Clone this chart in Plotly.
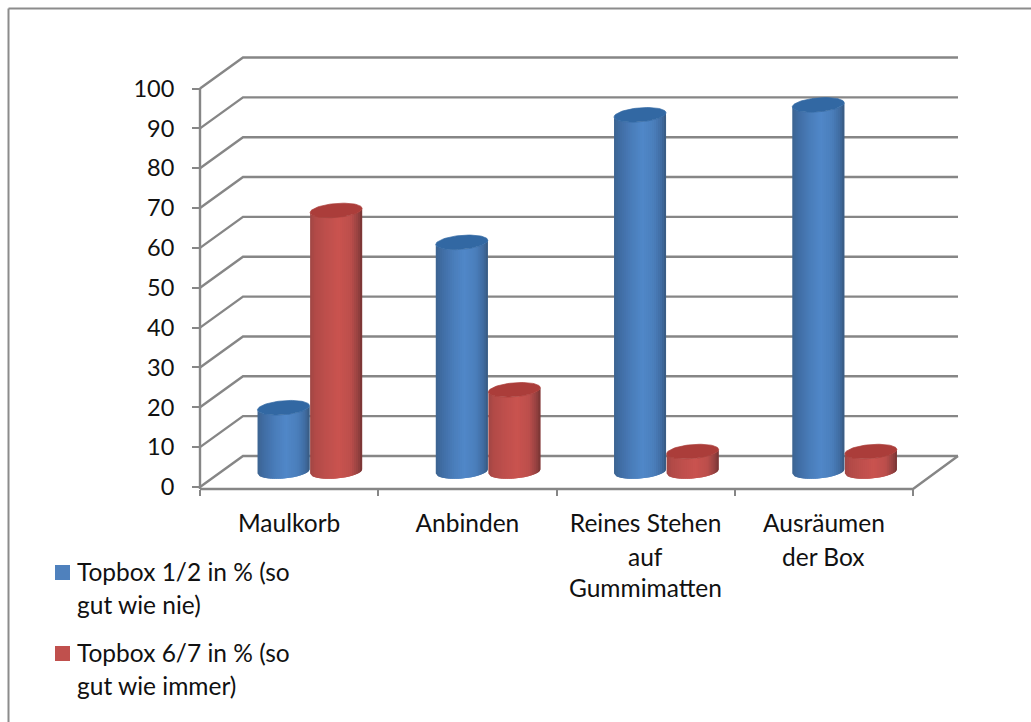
import numpy as np
import plotly.graph_objects as go

# Chart data
categories = ["Maulkorb", "Anbinden", "Reines Stehen", "Ausräumen"]
extra_label_lines = [[], [], ["auf", "Gummimatten"], ["der Box"]]
series_names = ["Topbox 1/2 in % (so gut wie nie)", "Topbox 6/7 in % (so gut wie immer)"]
topbox_12 = [16, 57.5, 89.5, 92]
topbox_67 = [65.5, 20.5, 5, 5]
value_ticks = list(range(0, 101, 10))

W, H = 1031, 722
FONT = "Lato"
FONT_SIZE = 24.5
GRID = "#868686"

# Axis scale: pixels per category and per value unit
PX_CAT = 178.25
PX_VAL = 3.985
ORIGIN_X, ORIGIN_Y = 200.0, 487.0

def paper_x(px):
    return px / W

def paper_y(py):
    return 1 - py / H

# Plot area and the matching axis ranges
LEFT, RIGHT, TOP, BOTTOM = 190.0, 962.0, 50.0, 494.0
x_range = [(LEFT - ORIGIN_X) / PX_CAT, (RIGHT - ORIGIN_X) / PX_CAT]
y_range = [(ORIGIN_Y - BOTTOM) / PX_VAL, (ORIGIN_Y - TOP) / PX_VAL]

# Oblique projection: shift of the back wall and of the cylinder axis
WALL_DX = 43 / PX_CAT
WALL_DV = 31 / PX_VAL
MID_DX = 21.5 / PX_CAT
MID_DV = 15.5 / PX_VAL
FLOOR_V = -2 / PX_VAL
WALL_END = (958 - ORIGIN_X) / PX_CAT

# Cylinder proportions
HALF_W = 26 / PX_CAT
HALF_H = 7 / PX_VAL
TILT = 0.08 * HALF_W * PX_CAT / PX_VAL
SERIES_OFFSET = [-0.152, 0.143]

BLUE_STOPS = [(-1, "#3d6390"), (-0.8, "#3f6ba1"), (-0.3, "#4a7ebb"), (0.1, "#5087c8"),
              (0.55, "#4a7ebb"), (0.85, "#3f6a9f"), (1, "#38587e")]
RED_STOPS = [(-1, "#a04644"), (-0.8, "#b24a47"), (-0.3, "#c0504d"), (0.1, "#c9534f"),
             (0.55, "#bd4f4c"), (0.85, "#964140"), (1, "#753433")]
CAP_COLORS = ["#3268a3", "#ab3d3a"]
SWATCHES = ["#4f81bd", "#c0504d"]


def hex_rgb(c):
    return np.array([int(c[i:i + 2], 16) for i in (1, 3, 5)], dtype=float)


def shade(stops, u):
    pos = [s[0] for s in stops]
    rgb = np.array([hex_rgb(s[1]) for s in stops])
    vals = [np.interp(u, pos, rgb[:, k]) for k in range(3)]
    return "rgb(%d,%d,%d)" % tuple(round(v) for v in vals)


def front_edge(u, level):
    return level + MID_DV + TILT * u - HALF_H * np.sqrt(np.clip(1 - u * u, 0, 1))


fig = go.Figure()


def add_line(xs, ys):
    fig.add_trace(go.Scatter(x=xs, y=ys, mode="lines", showlegend=False, hoverinfo="skip",
                             line=dict(color=GRID, width=2.4)))


# Back wall and side wall gridlines
for v in value_ticks:
    add_line([0, WALL_DX, WALL_END], [v, v + WALL_DV, v + WALL_DV])
# Floor edges and the value axis
add_line([0, 4, WALL_END], [FLOOR_V, FLOOR_V, WALL_DV])
add_line([0, 0], [FLOOR_V, 100])


def add_cylinder(center, value, stops, cap, name):
    cx = center + MID_DX
    edges = np.linspace(-1, 1, 27)
    step = edges[1] - edges[0]
    # Each strip runs under its right neighbour so no seams show between them
    for u0 in edges[:-1]:
        us = np.linspace(u0, min(u0 + 2 * step, 1), 5)
        px = cx + HALF_W * us
        xs = np.concatenate([px, px[::-1]])
        ys = np.concatenate([front_edge(us, 0), front_edge(us[::-1], value)])
        color = shade(stops, u0 + step / 2)
        fig.add_trace(go.Scatter(x=xs, y=ys, mode="lines", fill="toself", fillcolor=color,
                                 line=dict(width=0), name=name,
                                 showlegend=False, hoverinfo="skip"))
    t = np.linspace(0, 2 * np.pi, 73)
    fig.add_trace(go.Scatter(x=cx + HALF_W * np.cos(t),
                             y=value + MID_DV + TILT * np.cos(t) + HALF_H * np.sin(t),
                             mode="lines", fill="toself", fillcolor=cap,
                             line=dict(color=cap, width=0.7), name=name,
                             showlegend=False, hoverinfo="skip"))


for i in range(len(categories)):
    center = i + 0.5
    add_cylinder(center + SERIES_OFFSET[0], topbox_12[i], BLUE_STOPS, CAP_COLORS[0], series_names[0])
    add_cylinder(center + SERIES_OFFSET[1], topbox_67[i], RED_STOPS, CAP_COLORS[1], series_names[1])

annotations = []


def add_text(text, x, y, xref, anchor):
    annotations.append(dict(text=text, x=x, y=y, xref=xref, yref="paper", xanchor=anchor,
                            yanchor="middle", showarrow=False,
                            font=dict(family=FONT, size=FONT_SIZE, color="#111111")))


# Continuation lines of the category labels
for i, lines in enumerate(extra_label_lines):
    for k, line in enumerate(lines):
        add_text(line, i + 0.5, paper_y(556 + 31 * k), "x", "center")

# Legend entries
legend_rows = [("Topbox 1/2 in % (so", "gut wie nie)", 571, SWATCHES[0]),
               ("Topbox 6/7 in % (so", "gut wie immer)", 652, SWATCHES[1])]
shapes = []
for first, second, y, col in legend_rows:
    add_text(first, paper_x(75), paper_y(y), "paper", "left")
    add_text(second, paper_x(75), paper_y(y + 33), "paper", "left")
    shapes.append(dict(type="rect", xref="paper", yref="paper", x0=paper_x(55), x1=paper_x(70),
                       y0=paper_y(y - 6), y1=paper_y(y + 9), fillcolor=col, line=dict(width=0)))

# Outer frame, open on the right and at the bottom
shapes.append(dict(type="line", xref="paper", yref="paper", x0=paper_x(8.5), x1=paper_x(8.5),
                   y0=0, y1=paper_y(8.5), line=dict(color="#8c8c8c", width=2)))
shapes.append(dict(type="line", xref="paper", yref="paper", x0=paper_x(8.5), x1=1,
                   y0=paper_y(8.5), y1=paper_y(8.5), line=dict(color="#8c8c8c", width=2)))

fig.update_layout(
    width=W, height=H, margin=dict(l=0, r=0, t=0, b=0), autosize=False,
    paper_bgcolor="white", plot_bgcolor="white", showlegend=False,
    font=dict(family=FONT, size=FONT_SIZE, color="#111111"),
    annotations=annotations, shapes=shapes,
    xaxis=dict(domain=[paper_x(LEFT), paper_x(RIGHT)], range=x_range, anchor="free",
               position=paper_y(ORIGIN_Y + 2), showgrid=False, zeroline=False, showline=False,
               automargin=False,
               tickmode="array", tickvals=[i + 0.5 for i in range(len(categories))],
               ticktext=categories, ticks="", ticklen=0, ticklabelstandoff=17,
               minor=dict(tickmode="array", tickvals=list(range(len(categories) + 1)), ticks="outside",
                          ticklen=6, tickwidth=2, tickcolor=GRID, showgrid=False)),
    yaxis=dict(domain=[paper_y(BOTTOM), paper_y(TOP)], range=y_range, anchor="free",
               position=paper_x(ORIGIN_X), showgrid=False, zeroline=False, showline=False,
               automargin=False, tickfont=dict(size=23.5),
               tickmode="array", tickvals=value_ticks, ticks="outside", ticklen=8, tickwidth=2,
               tickcolor=GRID, ticklabelstandoff=13),
)

fig.write_html("out.html")
